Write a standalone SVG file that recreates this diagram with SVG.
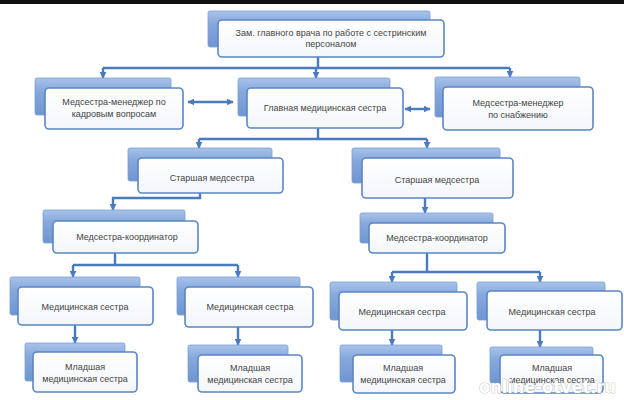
<svg xmlns="http://www.w3.org/2000/svg" width="624" height="400" viewBox="0 0 624 400">
<defs>
<linearGradient id="bg" x1="0" y1="0" x2="0" y2="1">
<stop offset="0" stop-color="#a9c3ea"/>
<stop offset="0.35" stop-color="#86a8dc"/>
<stop offset="1" stop-color="#6f96d0"/>
</linearGradient>
<linearGradient id="fg" x1="0" y1="0" x2="0" y2="1">
<stop offset="0" stop-color="#ffffff"/>
<stop offset="1" stop-color="#f3f6fb"/>
</linearGradient>
<marker id="ah" viewBox="0 0 10 10" refX="9" refY="5" markerWidth="7" markerHeight="7" markerUnits="userSpaceOnUse" orient="auto-start-reverse">
<path d="M0 0 L10 5 L0 10 z" fill="#4a7bbd"/>
</marker>
</defs>
<style>
.back{fill:url(#bg);stroke:#7a9fd6;stroke-width:0.8}
.front{fill:url(#fg);stroke:#5b86c4;stroke-width:1.6}
.t{font-family:"Liberation Sans",Arial,sans-serif;font-size:9px;fill:#444444;text-anchor:middle}
.c{fill:none;stroke:#4a7bbd;stroke-width:2.4}
.a{marker-end:url(#ah)}
.d{marker-start:url(#ah);marker-end:url(#ah)}
.wm{font-family:"DejaVu Sans",sans-serif;font-weight:bold;font-size:17px;fill:#ffffff;stroke:#9a9a9a;stroke-width:0.6;paint-order:stroke}
</style>
<rect x="0" y="0" width="624" height="400" fill="#ffffff"/>
<rect x="0" y="0" width="624" height="4" fill="#111111"/>

<g id="connectors">
<path class="c" d="M318 57 V68 M103 68 H510"/>
<path class="c a" d="M103 68 V78"/>
<path class="c a" d="M316 68 V78"/>
<path class="c a" d="M510 68 V77"/>
<path class="c d" d="M188 102 H233"/>
<path class="c d" d="M405 109 H430"/>
<path class="c" d="M318 128 V139 M199 139 H427"/>
<path class="c a" d="M199 139 V148"/>
<path class="c a" d="M427 139 V148"/>
<path class="c a" d="M200 193 V198 H113 V210"/>
<path class="c a" d="M425 198 V213"/>
<path class="c" d="M115 253 V265 M73 265 H238"/>
<path class="c a" d="M73 265 V277"/>
<path class="c a" d="M238 265 V277"/>
<path class="c" d="M427 253 V272 M392 272 H540"/>
<path class="c a" d="M392 272 V282"/>
<path class="c a" d="M540 272 V282"/>
<path class="c a" d="M75 325 V343"/>
<path class="c a" d="M238 327 V345"/>
<path class="c a" d="M392 330 V345"/>
<path class="c a" d="M540 330 V347"/>
</g>

<g id="n-zam">
<rect class="back" x="208" y="11" width="222" height="36" rx="2"/>
<rect class="front" x="218" y="20" width="226" height="37" rx="4"/>
<text class="t" x="331" y="36">Зам. главного врача по работе с сестринским</text>
<text class="t" x="331" y="47">персоналом</text>
</g>

<g id="n-kadry">
<rect class="back" x="35" y="78" width="136" height="37" rx="2"/>
<rect class="front" x="45" y="88" width="138" height="41" rx="4"/>
<text class="t" x="114" y="105">Медсестра-менеджер по</text>
<text class="t" x="114" y="117">кадровым вопросам</text>
</g>

<g id="n-glav">
<rect class="back" x="238" y="78" width="152" height="38" rx="2"/>
<rect class="front" x="247" y="88" width="156" height="40" rx="4"/>
<text class="t" x="325" y="111">Главная медицинская сестра</text>
</g>

<g id="n-snab">
<rect class="back" x="435" y="77" width="145" height="40" rx="2"/>
<rect class="front" x="443" y="87" width="150" height="43" rx="4"/>
<text class="t" x="518" y="106">Медсестра-менеджер</text>
<text class="t" x="518" y="118">по снабжению</text>
</g>

<g id="n-starsh1">
<rect class="back" x="128" y="148" width="144" height="33" rx="2"/>
<rect class="front" x="138" y="158" width="145" height="35" rx="4"/>
<text class="t" x="212" y="181">Старшая медсестра</text>
</g>

<g id="n-starsh2">
<rect class="back" x="352" y="148" width="148" height="35" rx="2"/>
<rect class="front" x="362" y="158" width="151" height="40" rx="4"/>
<text class="t" x="437" y="183">Старшая медсестра</text>
</g>

<g id="n-koord1">
<rect class="back" x="43" y="210" width="142" height="33" rx="2"/>
<rect class="front" x="53" y="221" width="145" height="32" rx="4"/>
<text class="t" x="127" y="240">Медсестра-координатор</text>
</g>

<g id="n-koord2">
<rect class="back" x="360" y="213" width="133" height="30" rx="2"/>
<rect class="front" x="369" y="223" width="136" height="30" rx="4"/>
<text class="t" x="437" y="241">Медсестра-координатор</text>
</g>

<g id="n-med1">
<rect class="back" x="10" y="277" width="130" height="38" rx="2"/>
<rect class="front" x="18" y="287" width="135" height="38" rx="4"/>
<text class="t" x="85" y="310">Медицинская сестра</text>
</g>

<g id="n-med2">
<rect class="back" x="177" y="277" width="123" height="38" rx="2"/>
<rect class="front" x="185" y="287" width="128" height="40" rx="4"/>
<text class="t" x="250" y="310">Медицинская сестра</text>
</g>

<g id="n-med3">
<rect class="back" x="330" y="282" width="127" height="38" rx="2"/>
<rect class="front" x="339" y="292" width="128" height="38" rx="4"/>
<text class="t" x="402" y="315">Медицинская сестра</text>
</g>

<g id="n-med4">
<rect class="back" x="477" y="282" width="128" height="38" rx="2"/>
<rect class="front" x="487" y="291" width="135" height="39" rx="4"/>
<text class="t" x="552" y="315">Медицинская сестра</text>
</g>

<g id="n-ml1">
<rect class="back" x="25" y="343" width="100" height="38" rx="2"/>
<rect class="front" x="33" y="352" width="104" height="40" rx="4"/>
<text class="t" x="85" y="370">Младшая</text>
<text class="t" x="85" y="382">медицинская сестра</text>
</g>

<g id="n-ml2">
<rect class="back" x="188" y="345" width="100" height="37" rx="2"/>
<rect class="front" x="198" y="355" width="104" height="37" rx="4"/>
<text class="t" x="250" y="371">Младшая</text>
<text class="t" x="250" y="383">медицинская сестра</text>
</g>

<g id="n-ml3">
<rect class="back" x="340" y="345" width="102" height="37" rx="2"/>
<rect class="front" x="353" y="355" width="102" height="38" rx="4"/>
<text class="t" x="403" y="371">Младшая</text>
<text class="t" x="403" y="383">медицинская сестра</text>
</g>

<g id="n-ml4">
<rect class="back" x="490" y="347" width="103" height="36" rx="2"/>
<rect class="front" x="500" y="355" width="103" height="38" rx="4"/>
<text class="t" x="552" y="371">Младшая</text>
<text class="t" x="552" y="383">медицинская сестра</text>
</g>

<text class="wm" x="479" y="393" textLength="137" lengthAdjust="spacingAndGlyphs">online-otvet.ru</text>
</svg>
